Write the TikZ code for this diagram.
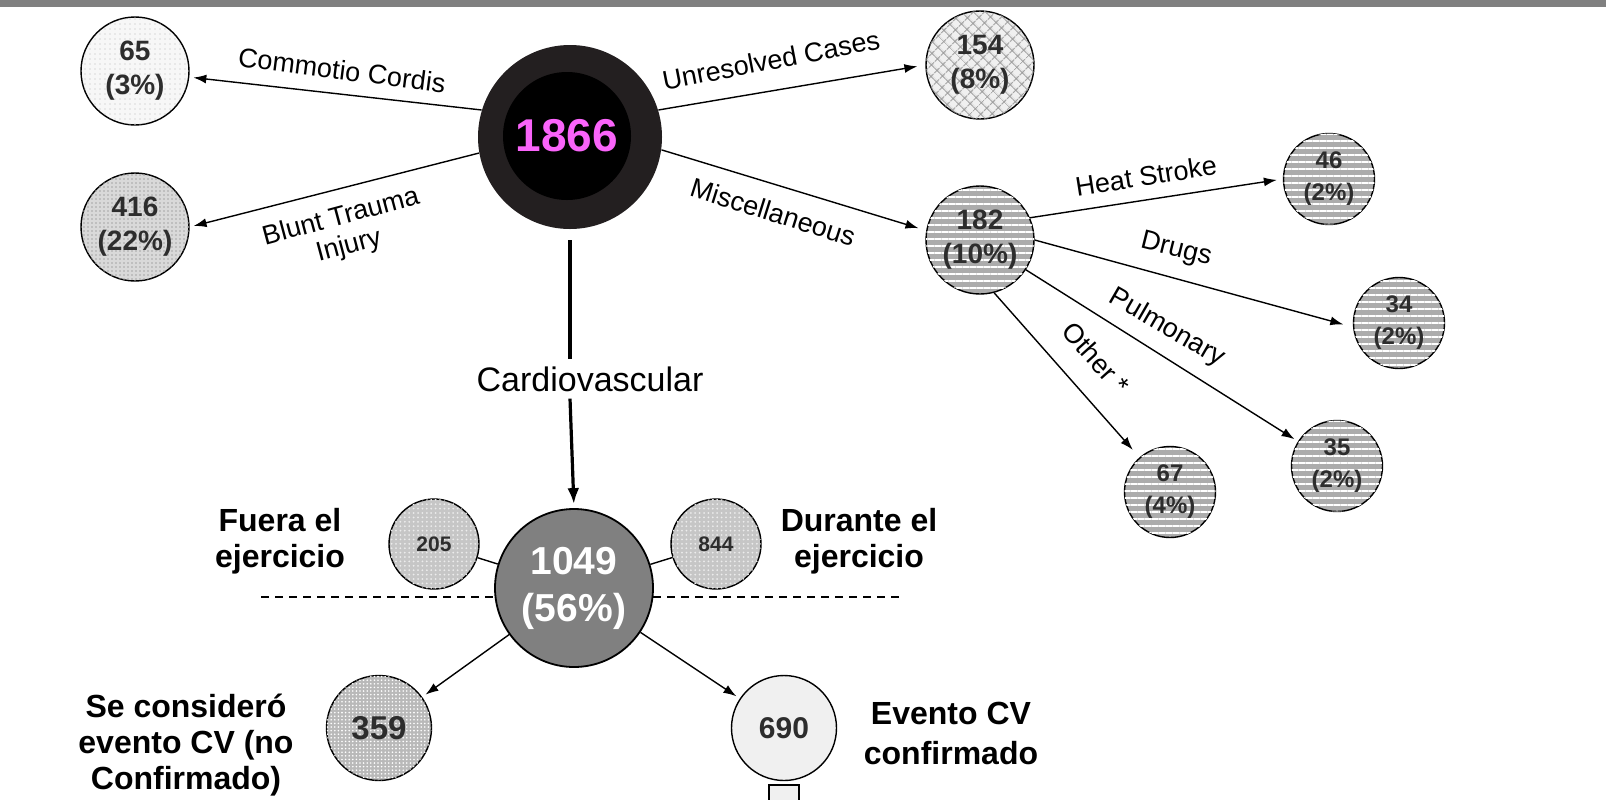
\documentclass[tikz,border=0pt]{standalone}
\usepackage{fontspec}
\setmainfont{Liberation Sans}
\usetikzlibrary{arrows.meta,patterns.meta}

\definecolor{topbar}{RGB}{128,128,128}
\definecolor{ringcolor}{RGB}{35,31,32}
\definecolor{totalcolor}{RGB}{250,100,250}
\definecolor{cvcolor}{RGB}{128,128,128}
\definecolor{numcolor}{RGB}{45,45,45}

\begin{document}
\begin{tikzpicture}[
    x=0.5pt, y=-0.5pt,
    >={Latex[length=6.5pt,width=4.5pt]},
    bubble/.style={circle, draw, line width=0.7pt, inner sep=0pt, align=center,
        text=numcolor, font=\bfseries\fontsize{14}{17}\selectfont},
    small bubble/.style={bubble, minimum size=45.5pt, font=\bfseries\fontsize{12}{16}\selectfont},
    light speckle/.style={fill=gray!6, postaction={pattern={Dots[distance=2.5pt,radius=0.35pt]}, pattern color=gray!55}},
    dark speckle/.style={fill=gray!30, postaction={pattern={Dots[distance=2pt,radius=0.4pt]}, pattern color=gray!70}},
    grid speckle/.style={fill=gray!45, postaction={pattern={Dots[distance=2.2pt,radius=0.5pt]}, pattern color=gray!15}},
    hatch fill/.style={fill=gray!12, postaction={pattern={Hatch[angle=45,distance=4pt,line width=0.5pt]}, pattern color=gray!80}},
    stripe fill/.style={fill=gray!65, postaction={pattern={Lines[angle=0,distance=3.5pt,line width=1.2pt]}, pattern color=white}},
    squiggle fill/.style={fill=gray!55, postaction={pattern={Dots[distance=1.8pt,radius=0.45pt]}, pattern color=white}},
    link/.style={->, line width=0.7pt, shorten >=2pt},
    edgelabel/.style={font=\fontsize{13.5}{15}\selectfont, inner sep=1pt, align=center},
    tag/.style={font=\bfseries\fontsize{16}{18}\selectfont, align=center}
]

\useasboundingbox (0,0) rectangle (1606,799);
\fill[topbar] (0,0) rectangle (1606,7);

% total of cases
\node[circle, fill=ringcolor, minimum size=92pt, inner sep=0pt] (total) at (570,137) {};
\node[circle, fill=black, minimum size=64pt, inner sep=0pt, text=totalcolor,
      font=\bfseries\fontsize{23}{26}\selectfont] (totalcore) at (567,136) {1866};

% first level
\node[bubble, minimum size=54pt, light speckle] (commotio) at (135,71) {65\\(3\%)};
\node[bubble, minimum size=54pt, dark speckle] (blunt) at (135,227) {416\\(22\%)};
\node[bubble, minimum size=54pt, hatch fill] (unresolved) at (980,65) {154\\(8\%)};
\node[bubble, minimum size=54pt, stripe fill] (misc) at (980,240) {182\\(10\%)};

% miscellaneous
\node[small bubble, stripe fill] (heat) at (1329,179) {46\\(2\%)};
\node[small bubble, stripe fill] (drugs) at (1399,323) {34\\(2\%)};
\node[small bubble, stripe fill] (pulm) at (1337,466) {35\\(2\%)};
\node[small bubble, stripe fill] (other) at (1170,492) {67\\(4\%)};

\draw[link] (total.163) -- (commotio);
\draw[link] (total.190) -- (blunt.east);
\draw[link, shorten >=4pt] (total.17) -- (unresolved.west);
\draw[link, shorten >=4pt] (total.-8) -- (misc.170);
\draw[link, shorten >=3pt] (misc.24) -- (heat.west);
\draw[link, shorten >=5pt] (misc.east) -- (drugs.185);
\draw[link] (misc.-33) -- (pulm);
\draw[link, shorten >=5pt] (misc.-75) -- (other);

\node[edgelabel, rotate=-7.3] (lblcommotio) at (342,70) {Commotio Cordis};
\node[edgelabel, rotate=15] (lblblunt) at (345,232) {Blunt Trauma\\Injury};
\node[edgelabel, rotate=11] (lblunres) at (771,60) {Unresolved Cases};
\node[edgelabel, rotate=-17.5] (lblmisc) at (773,212) {Miscellaneous};
\node[edgelabel, rotate=9] (lblheat) at (1146,176) {Heat Stroke};
\node[edgelabel, rotate=-14] (lbldrugs) at (1176,250) {Drugs};
\node[edgelabel, rotate=-30] (lblpulm) at (1167,328) {Pulmonary};
\node[edgelabel, rotate=-48] (lblother) at (1096,358) {Other *};

% cardiovascular branch
\node[font=\fontsize{17}{20}\selectfont] (cardio) at (590,379) {Cardiovascular};

\coordinate (dashL) at (261,597);
\coordinate (dashR) at (899,597);
\draw[line width=0.7pt, dash pattern=on 4pt off 3pt] (dashL) -- (dashR);

\node[circle, draw, line width=0.9pt, fill=cvcolor, minimum size=79pt, inner sep=0pt,
      align=center, text=white, font=\bfseries\fontsize{19.5}{23.5}\selectfont] (cv) at (574,588) {1049\\(56\%)};

\draw[line width=1.6pt, shorten <=5.5pt] (total.south) -- (total.south |- cardio.north);
\draw[line width=1.6pt, -{Latex[length=8pt,width=6pt]}, shorten >=2pt]
    (total.south |- cardio.south) -- (cv.north);

\node[bubble, minimum size=45pt, grid speckle, font=\bfseries\fontsize{10.5}{12}\selectfont] (fuera) at (434,544) {205};
\node[bubble, minimum size=45pt, grid speckle, font=\bfseries\fontsize{10.5}{12}\selectfont] (durante) at (716,544) {844};
\draw[line width=0.7pt] (fuera) -- (cv);
\draw[line width=0.7pt] (durante) -- (cv);

\node[bubble, minimum size=52.5pt, squiggle fill, font=\bfseries\fontsize{16.5}{18}\selectfont] (nocon) at (379,728) {359};
\node[bubble, minimum size=52.5pt, fill=gray!12, font=\bfseries\fontsize{15}{18}\selectfont] (conf) at (784,728) {690};
\node[draw, line width=0.7pt, fill=gray!12, minimum width=15pt, minimum height=12pt,
      inner sep=0pt, anchor=north] (confstem) at ([yshift=-1.5pt]conf.south) {};

\draw[link] (cv) -- (nocon);
\draw[link] (cv) -- (conf);

\node[tag] (lblfuera) at (280,541) {Fuera el\\ejercicio};
\node[tag] (lbldurante) at (859,541) {Durante el\\ejercicio};
\node[tag] (lblnocon) at (186,745) {Se consideró\\evento CV (no\\Confirmado)};
\node[tag, font=\bfseries\fontsize{16}{20}\selectfont] (lblconf) at (951,733) {Evento CV\\confirmado};

\end{tikzpicture}
\end{document}
